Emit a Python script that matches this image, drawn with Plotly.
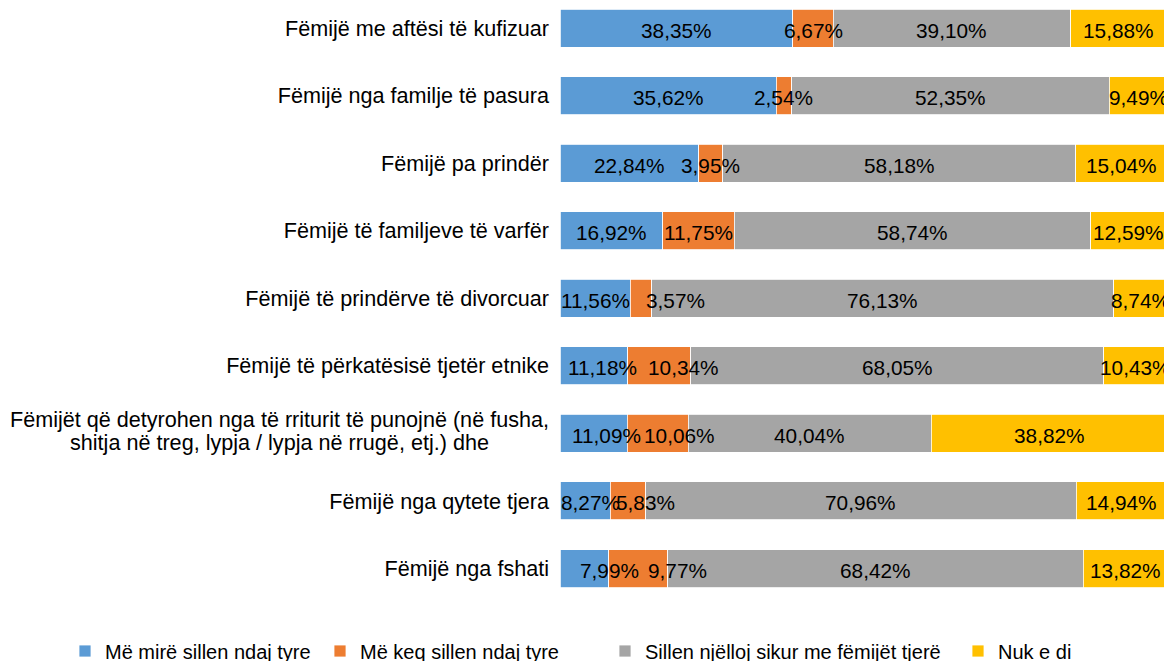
import plotly.graph_objects as go

categories = [
    "Fëmijë me aftësi të kufizuar",
    "Fëmijë nga familje të pasura",
    "Fëmijë pa prindër",
    "Fëmijë të familjeve të varfër",
    "Fëmijë të prindërve të divorcuar",
    "Fëmijë të përkatësisë tjetër etnike",
    "Fëmijët që detyrohen nga të rriturit të punojnë (në fusha,<br>shitja në treg, lypja / lypja në rrugë, etj.) dhe",
    "Fëmijë nga qytete tjera",
    "Fëmijë nga fshati",
]
series_names = [
    "Më mirë sillen ndaj tyre",
    "Më keq sillen ndaj tyre",
    "Sillen njëlloj sikur me fëmijët tjerë",
    "Nuk e di",
]
better = [38.35, 35.62, 22.84, 16.92, 11.56, 11.18, 11.09, 8.27, 7.99]
worse = [6.67, 2.54, 3.95, 11.75, 3.57, 10.34, 10.06, 5.83, 9.77]
same = [39.10, 52.35, 58.18, 58.74, 76.13, 68.05, 40.04, 70.96, 68.42]
dontknow = [15.88, 9.49, 15.04, 12.59, 8.74, 10.43, 38.82, 14.94, 13.82]
colors = ["#5B9BD5", "#ED7D31", "#A5A5A5", "#FFC000"]

series = [better, worse, same, dontknow]

# manual label nudges (px) for crowded small segments: (row, series) -> shift
label_nudge = {
    (4, 1): 34,
    (5, 0): 9, (5, 1): 24,
    (6, 0): 13, (6, 1): 22,
    (7, 0): 5, (7, 1): 18,
    (8, 0): 25, (8, 1): 39,
}

# The page body has an 8px margin, so the figure is sized to fit the window
W, H = 1164, 653
ML, MR, MT, MB = 552, 5, 0, 51
PW = W - ML - MR
PH = H - MT - MB
FONT = "Liberation Sans, Arial, sans-serif"

cats_b = categories[::-1]

fig = go.Figure()
legend_ids = ["legend", "legend2", "legend3", "legend4"]
for i, (name, vals, col) in enumerate(zip(series_names, series, colors)):
    fig.add_trace(go.Bar(
        y=cats_b, x=vals[::-1], name=name, orientation="h",
        marker=dict(color=col, line=dict(color="white", width=0.8)),
        legend=legend_ids[i], hoverinfo="skip",
    ))

annotations = []
for ci, cat in enumerate(categories):
    cum = 0.0
    for si, vals in enumerate(series):
        v = vals[ci]
        annotations.append(dict(
            x=cum + v / 2, y=cat, xref="x", yref="y", showarrow=False,
            text=f"{v:.2f}".replace(".", ",") + "%",
            font=dict(family=FONT, size=20.8, color="#000000"),
            xanchor="center", yanchor="middle",
            xshift=label_nudge.get((ci, si), 0), yshift=-2,
        ))
        cum += v

long_cat = categories[6]
line1, line2 = long_cat.split("<br>")
for txt, ys in ((line1, 14), (line2, -9.5)):
    annotations.append(dict(
        x=(271 - ML) / PW, xref="paper", y=long_cat, yref="y", yshift=ys,
        showarrow=False, text=txt, xanchor="center", yanchor="middle",
        font=dict(family=FONT, size=21.6, color="#000000"),
    ))

ticktext = [("" if c == long_cat else c) for c in cats_b]

text_starts = [97, 352, 637, 990]
legend_cfg = {}
for lid, ts in zip(legend_ids, text_starts):
    legend_cfg[lid] = dict(
        orientation="h", x=(ts - 40 - ML) / PW, xanchor="left",
        y=(PH + MT - 643) / PH, yanchor="middle", yref="paper",
        font=dict(family=FONT, size=20, color="#000000"),
        bgcolor="rgba(0,0,0,0)", borderwidth=0,
        itemclick=False, itemdoubleclick=False,
    )

fig.update_layout(
    width=W, height=H,
    margin=dict(l=ML, r=MR, t=MT, b=MB, autoexpand=False),
    paper_bgcolor="white", plot_bgcolor="white",
    barmode="stack", bargap=0.4376,
    font=dict(family=FONT, size=21.6, color="#000000"),
    xaxis=dict(range=[0, 100], visible=False, fixedrange=True),
    yaxis=dict(
        type="category", categoryorder="array", categoryarray=cats_b,
        range=[-0.614, 8.296], tickmode="array", tickvals=cats_b,
        ticktext=ticktext, showgrid=False, zeroline=False, showline=False,
        ticks="", ticklabelstandoff=10, automargin=False,
        tickfont=dict(family=FONT, size=21.6, color="#000000"),
        fixedrange=True,
    ),
    annotations=annotations,
    showlegend=True,
    **legend_cfg,
)

fig.write_html("out.html")
